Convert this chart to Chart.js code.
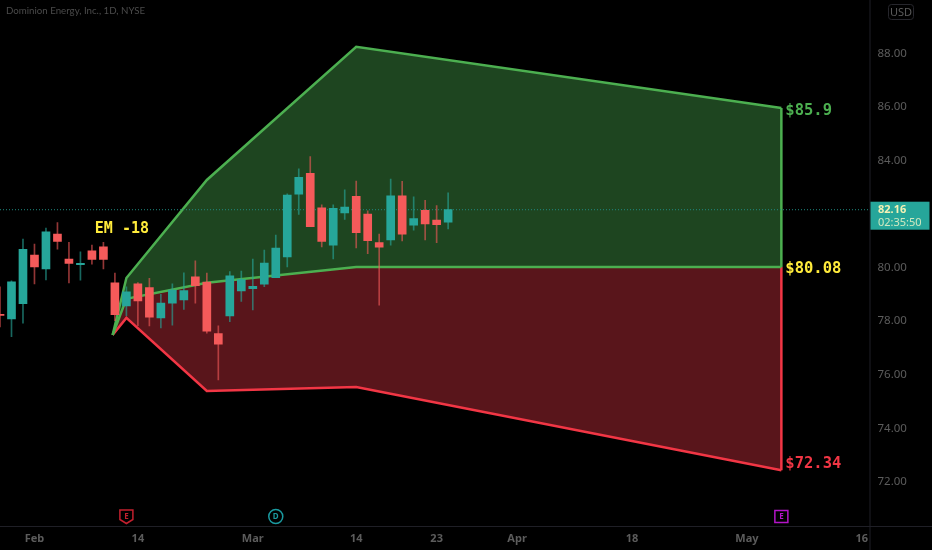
<!DOCTYPE html>
<html>
<head>
<meta charset="utf-8">
<title>Dominion Energy, Inc., 1D, NYSE</title>
<style>
  html, body { margin: 0; padding: 0; background: #000; }
  canvas { display: block; }
</style>
<script src="https://cdn.jsdelivr.net/npm/chart.js@4/dist/chart.umd.min.js"></script>
</head>
<body>
<canvas id="chart" width="932" height="550"></canvas>
<script>
// ---------- Candles (one per trading day, index = bar number) ----------
const opens  = [78.25,78.08,78.65,80.47,79.95,81.25,80.32,80.11,80.62,80.77,79.43,78.57,79.39,79.25,78.12,78.67,78.79,79.65,79.46,77.53,78.19,79.13,79.21,79.38,79.62,80.40,82.74,83.52,82.23,80.84,82.04,82.66,82.00,80.93,81.03,82.68,81.58,82.14,81.77,81.69];
const highs  = [79.28,79.50,81.06,80.88,81.47,81.68,80.94,80.59,80.84,80.94,79.79,79.28,79.44,79.60,79.00,79.39,79.80,80.25,79.79,77.82,79.85,79.87,80.32,80.65,81.21,82.75,83.69,84.14,82.34,82.34,82.90,83.23,82.12,81.25,83.30,83.22,82.64,82.51,82.31,82.79];
const lows   = [77.78,77.42,77.92,79.39,79.54,80.69,79.43,79.53,80.13,79.95,78.02,78.20,77.83,77.82,77.75,77.85,78.44,78.67,77.55,75.80,77.98,78.74,78.42,79.29,79.62,80.02,81.98,81.53,80.77,80.32,81.80,80.73,80.52,78.60,80.84,80.99,81.40,81.03,80.93,81.44];
const closes = [78.21,79.47,80.68,80.02,81.33,80.98,80.15,80.16,80.30,80.30,78.24,79.09,78.75,78.15,78.67,79.16,79.14,79.32,77.62,77.14,79.69,79.55,79.30,80.17,80.73,82.71,83.37,81.53,80.98,82.21,82.26,81.30,81.00,80.76,82.68,81.25,81.83,81.63,81.60,82.16];

// ---------- Expected move bands ----------
const bandX     = [9.8, 11, 18, 31, 68];
const bandUpper = [77.48, 79.61, 83.27, 88.24, 85.96];
const bandMid   = [77.48, 78.83, 79.43, 80.02, 80.02];
const bandLower = [77.48, 78.12, 75.39, 75.54, 72.43];

// ---------- Axes ----------
const yTicks      = [72, 74, 76, 78, 80, 82, 84, 86, 88];
const xTickPos    = [3, 12, 22, 31, 38, 45, 55, 65, 75];
const xTickLabels = ['Feb', '14', 'Mar', '14', '23', 'Apr', '18', 'May', '16'];
const lastPrice   = 82.16;
const lastLabel   = '82.16';
const countdown   = '02:35:50';
const titleText   = 'Dominion Energy, Inc., 1D, NYSE';

// ---------- Annotations ----------
const bandLabels = [
  { text: '$85.9',  x: 68, y: 85.85, color: '#4caf50' },
  { text: '$80.08', x: 68, y: 79.94, color: '#ffeb3b' },
  { text: '$72.34', x: 68, y: 72.67, color: '#f23645' },
];
const emLabel = { text: 'EM -18', x: 8.25, y: 81.44, color: '#ffeb3b' };
const events = [
  { letter: 'E', x: 11, shape: 'shield', color: '#c2202e' },
  { letter: 'D', x: 24, shape: 'circle', color: '#1a9aa0' },
  { letter: 'E', x: 68, shape: 'square', color: '#b414c8' },
];

const UP = '#26a69a', DOWN = '#f55a5a';
const UP_WICK = 'rgba(38,166,154,.62)', DOWN_WICK = 'rgba(245,90,90,.6)';
const AXIS = '#1f1f26', TEXT = '#5c5c5c';
const idx = opens.map((_, i) => i);
const isUp = i => closes[i] >= opens[i];
const points = ys => bandX.map((x, i) => ({ x, y: ys[i] }));

// Title, price tag, axis lines, band labels and event badges
const overlay = {
  id: 'overlay',
  afterDraw(chart) {
    const { ctx, scales: { x, y }, chartArea: area } = chart;
    ctx.save();

    // axis lines run through to the window edge
    ctx.strokeStyle = AXIS;
    ctx.lineWidth = 1;
    ctx.beginPath();
    ctx.moveTo(area.right + .5, 0); ctx.lineTo(area.right + .5, 550);
    ctx.moveTo(0, area.bottom + .5); ctx.lineTo(932, area.bottom + .5);
    ctx.stroke();

    ctx.textBaseline = 'middle';
    ctx.textAlign = 'left';
    ctx.fillStyle = '#4b4b4b';
    ctx.font = '9.7px Lato';
    ctx.fillText(titleText, 6, 11);

    ctx.font = 'bold 15.5px "DejaVu Sans Mono"';
    bandLabels.forEach(l => {
      ctx.fillStyle = l.color;
      ctx.fillText(l.text, x.getPixelForValue(l.x) + 4, y.getPixelForValue(l.y));
    });
    ctx.font = 'bold 15px "DejaVu Sans Mono"';
    ctx.fillStyle = emLabel.color;
    ctx.fillText(emLabel.text, x.getPixelForValue(emLabel.x), y.getPixelForValue(emLabel.y));

    // USD box
    ctx.strokeStyle = '#26262c';
    ctx.beginPath();
    ctx.roundRect(888.5, 4.5, 25, 15, 3);
    ctx.stroke();
    ctx.fillStyle = TEXT;
    ctx.textAlign = 'center';
    ctx.font = '11px "Noto Sans"';
    ctx.fillText('USD', 901, 12.5);

    // last price tag
    const py = y.getPixelForValue(lastPrice);
    ctx.fillStyle = UP;
    ctx.fillRect(area.right + 1, py - 8, 59, 28);
    ctx.fillStyle = '#f4f1b4';
    ctx.textAlign = 'left';
    ctx.font = 'bold 11px "Noto Sans"';
    ctx.fillText(lastLabel, 878, py);
    ctx.font = '11px "Noto Sans"';
    ctx.fillStyle = '#cfe8c0';
    ctx.fillText(countdown, 878, py + 13);

    // event badges on the time axis
    events.forEach(ev => {
      const px = x.getPixelForValue(ev.x);
      const cy = 516.5;
      ctx.strokeStyle = ev.color;
      ctx.lineWidth = 1.5;
      ctx.beginPath();
      if (ev.shape === 'circle') {
        ctx.arc(px, cy, 7, 0, Math.PI * 2);
      } else if (ev.shape === 'square') {
        ctx.rect(px - 6.5, cy - 6, 13, 12);
      } else {
        ctx.moveTo(px - 6.5, cy - 6.5);
        ctx.lineTo(px + 6.5, cy - 6.5);
        ctx.lineTo(px + 6.5, cy + 3);
        ctx.lineTo(px, cy + 7);
        ctx.lineTo(px - 6.5, cy + 3);
        ctx.closePath();
      }
      ctx.stroke();
      ctx.fillStyle = ev.color;
      ctx.textAlign = 'center';
      ctx.font = 'bold 8px "Noto Sans"';
      ctx.fillText(ev.letter, px, cy);
    });
    ctx.restore();
  }
};

new Chart(document.getElementById('chart'), {
  type: 'bar',
  data: {
    datasets: [
      // bodies and wicks on top of everything
      {
        label: 'Body', order: 0, grouped: false, barThickness: 8, minBarLength: 1, borderWidth: 0,
        data: idx.map(i => ({ x: i, y: [opens[i], closes[i]] })),
        backgroundColor: idx.map(i => isUp(i) ? UP : DOWN),
      },
      {
        label: 'Wick', order: 1, grouped: false, barThickness: 1, borderWidth: 0,
        data: idx.map(i => ({ x: i, y: [lows[i], highs[i]] })),
        backgroundColor: idx.map(i => isUp(i) ? UP_WICK : DOWN_WICK),
      },
      {
        label: 'Last', type: 'line', order: 2, pointRadius: 0,
        data: [{ x: 0, y: lastPrice }, { x: 75.67, y: lastPrice }],
        borderColor: '#1f8a7f', borderWidth: 1, borderDash: [1, 2], fill: false,
      },
      // band outlines
      {
        label: 'Upper', type: 'line', order: 3, pointRadius: 0,
        data: points(bandUpper), borderColor: '#4caf50', borderWidth: 2.5, fill: false,
      },
      {
        label: 'Edge up', type: 'line', order: 3, pointRadius: 0,
        data: [{ x: bandX[4], y: bandUpper[4] }, { x: bandX[4], y: bandMid[4] }],
        borderColor: '#4caf50', borderWidth: 2.5, fill: false,
      },
      {
        label: 'Mid', type: 'line', order: 3, pointRadius: 0,
        data: points(bandMid), borderColor: '#4caf50', borderWidth: 2.5, fill: false,
      },
      {
        label: 'Lower', type: 'line', order: 4, pointRadius: 0,
        data: points(bandLower), borderColor: '#f23645', borderWidth: 2.5, fill: false,
      },
      {
        label: 'Edge down', type: 'line', order: 4, pointRadius: 0,
        data: [{ x: bandX[4], y: bandMid[4] }, { x: bandX[4], y: bandLower[4] }],
        borderColor: '#f23645', borderWidth: 2.5, fill: false,
      },
      // band fills go first so they cannot cover the outlines
      {
        label: 'Fill up', type: 'line', order: 5, pointRadius: 0, borderWidth: 0,
        data: points(bandUpper), fill: { target: '+1' }, backgroundColor: '#1e4520',
      },
      {
        label: 'Fill down', type: 'line', order: 5, pointRadius: 0, borderWidth: 0,
        data: points(bandMid), fill: { target: '+1' }, backgroundColor: '#59151b',
      },
      {
        label: 'Fill base', type: 'line', order: 6, pointRadius: 0, borderWidth: 0,
        data: points(bandLower), fill: false,
      },
    ]
  },
  options: {
    responsive: false,
    animation: false,
    devicePixelRatio: 1,
    layout: { padding: 0 },
    plugins: { legend: { display: false }, tooltip: { enabled: false }, title: { display: false } },
    scales: {
      x: {
        type: 'linear', min: 0, max: 75.67, offset: false,
        grid: { display: false, drawTicks: false }, border: { display: false },
        afterFit: s => { s.height = 24; s.paddingLeft = 0; s.paddingRight = 0; },
        afterBuildTicks: s => { s.ticks = xTickPos.map(value => ({ value })); },
        ticks: {
          autoSkip: false, maxRotation: 0, padding: 6, color: TEXT,
          font: { family: 'Noto Sans', size: 11, weight: 'bold' },
          callback: v => xTickLabels[xTickPos.indexOf(v)],
        },
      },
      y: {
        position: 'right', min: 70.35, max: 89.99,
        grid: { display: false, drawTicks: false }, border: { display: false },
        afterFit: s => { s.width = 62.5; s.paddingTop = 0; s.paddingBottom = 0; },
        afterBuildTicks: s => { s.ticks = yTicks.map(value => ({ value })); },
        ticks: {
          autoSkip: false, padding: 8, color: TEXT,
          font: { family: 'Noto Sans', size: 11.5 },
          callback: v => v.toFixed(2),
        },
      },
    },
  },
  plugins: [overlay],
});
</script>
</body>
</html>
